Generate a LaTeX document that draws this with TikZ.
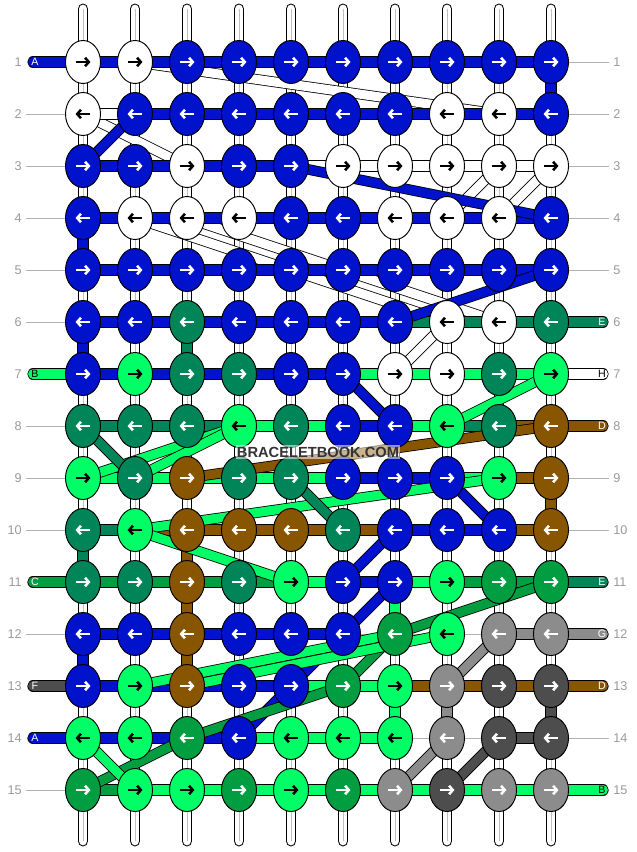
\documentclass[tikz,border=0pt]{standalone}
\usepackage{fontspec}
\setmainfont{Liberation Sans}
\usetikzlibrary{arrows.meta}
\usetikzlibrary{shapes.geometric}
\definecolor{cB}{RGB}{0,18,204}
\definecolor{cW}{RGB}{255,255,255}
\definecolor{cT}{RGB}{0,133,88}
\definecolor{cL}{RGB}{0,255,102}
\definecolor{cN}{RGB}{136,85,0}
\definecolor{cM}{RGB}{0,158,64}
\definecolor{cG}{RGB}{140,140,140}
\definecolor{cD}{RGB}{77,77,77}
\colorlet{aB}{white}
\colorlet{aW}{black}
\colorlet{aT}{white}
\colorlet{aL}{black}
\colorlet{aN}{white}
\colorlet{aM}{white}
\colorlet{aG}{white}
\colorlet{aD}{white}

\begin{document}
\begin{tikzpicture}[x=0.75pt, y=-0.75pt,
strand/.style={draw=black, line width=0.8pt, double=white, double distance=6.6pt, line cap=round},
midline/.style={draw=black!25, line width=0.6pt},
bar/.style={draw=black, line width=0.6pt, double=#1, double distance=7.3pt},
slant/.style={draw=black, line width=0.6pt, double=#1, double distance=6.8pt},
knot/.style={ellipse, draw, line width=0.7pt, fill=#1, minimum width=26.25pt, minimum height=32.25pt, inner sep=0pt},
arr/.style={draw=#1, line width=1.9pt, -{Straight Barb[length=2.8pt,width=6.4pt]}},
rowlbl/.style={text=black!40, font=\fontsize{9.5}{10}\selectfont, inner sep=0pt},
rowline/.style={draw=black!30, line width=0.6pt},
tablbl/.style={text=#1, font=\fontsize{8}{9}\selectfont, inner sep=0pt}]

\useasboundingbox (0,0) rectangle (636,852);

% knot positions
\foreach \r in {1,...,15}{
  \foreach \c in {1,...,10}{
    \coordinate (p\r-\c) at ({83+(\c-1)*52},{62+(\r-1)*52});
  }
}

% threads hanging top to bottom
\foreach \c in {1,...,10}{
  \coordinate (top\c) at ({83+(\c-1)*52},9);
  \coordinate (bot\c) at ({83+(\c-1)*52},841);
  \draw[strand] (top\c) -- (bot\c);
  \draw[midline] (top\c) -- (bot\c);
}

% white threads crossing
\foreach \a/\b in {1-2/2-9, 2-1/3-3, 3-10/4-9, 3-9/4-8, 4-2/6-8, 4-3/6-9, 6-8/7-7}
  \draw[slant=white] (p\a) -- (p\b);

% row labels
\foreach \r in {1,...,15}{
  \node[rowlbl, anchor=east] (ll\r) at (22,{62+(\r-1)*52}) {\r};
  \node[rowlbl, anchor=west] (rl\r) at (613,{62+(\r-1)*52}) {\r};
  \coordinate (lb\r) at (26,{62+(\r-1)*52});
  \coordinate (rb\r) at (609,{62+(\r-1)*52});
}
\foreach \r in {2,3,4,5,6,8,9,10,12,15}
  \draw[rowline] (lb\r) -- (p\r-1);
\foreach \r in {1,2,3,4,5,9,10,14}
  \draw[rowline] (p\r-10) -- (rb\r);

% loose ends, left and right
\foreach \r/\k/\t in {1/B/A, 7/L/B, 11/M/C, 13/D/F, 14/B/A}{
  \coordinate (lt\r) at (33,{62+(\r-1)*52});
  \draw[bar=c\k, line cap=round] (lt\r) -- (p\r-1);
  \node[tablbl=a\k] (ltx\r) at (35,{62+(\r-1)*52}) {\t};
}
\foreach \r/\k/\t in {6/T/E, 7/W/H, 8/N/D, 11/T/E, 12/G/G, 13/N/D, 15/L/B}{
  \coordinate (rt\r) at (603,{62+(\r-1)*52});
  \draw[bar=c\k, line cap=round] (p\r-10) -- (rt\r);
  \node[tablbl=a\k] (rtx\r) at (602,{62+(\r-1)*52}) {\t};
}

% straight down
\foreach \r/\c/\k in {1/10/B, 4/1/B, 6/1/B, 6/3/T, 9/10/N, 10/1/T, 10/3/N, 11/3/N,
  12/3/N, 12/1/B, 11/7/L, 13/8/G, 13/10/D, 13/7/L}{
  \pgfmathtruncatemacro\n{\r+1}
  \draw[bar=c\k] (p\r-\c) -- (p\n-\c);
}

% along the rows
\foreach \r/\segs in {1/{B,B,B,B,B,B,B,B,B}, 2/{W,B,B,B,B,B,B,B,B}, 3/{B,B,B,B,W,W,W,W,W},
  4/{B,B,B,B,B,B,B,B,B}, 5/{B,B,B,B,B,B,B,B,B}, 6/{B,B,B,B,B,B,T,T,T},
  7/{B,B,B,B,B,L,L,L,L}, 8/{T,T,T,L,L,B,L,T,N}, 9/{L,L,L,L,L,B,B,L,N},
  10/{T,N,N,N,N,N,B,B,N}, 11/{M,M,M,M,L,B,L,M,M}, 12/{B,B,B,B,B,X,X,X,G},
  13/{B,B,B,B,L,L,N,N,N}, 14/{B,B,B,L,L,L,X,X,D}, 15/{M,L,L,L,L,L,L,L,L}}{
  \foreach \s [count=\c] in \segs {
    \pgfmathtruncatemacro\d{\c+1}
    \if\s X
      \draw[rowline] (p\r-\c) -- (p\r-\d);
    \else
      \draw[bar=c\s] (p\r-\c) -- (p\r-\d);
    \fi
  }
}

% threads running across
\foreach \a/\b/\k in {2-2/3-1/B, 3-5/4-10/B, 5-10/6-7/B, 7-6/8-7/B, 9-8/10-9/B,
  10-7/11-6/B, 11-7/12-6/B, 12-6/13-5/B, 13-5/14-4/B,
  8-4/9-1/L, 8-4/9-2/L, 8-1/9-2/T, 9-3/8-10/N, 10-2/9-9/L, 10-2/11-5/L,
  9-5/10-6/T, 7-10/8-8/L, 11-10/12-7/M, 12-7/13-6/M, 13-6/14-3/M, 14-3/15-1/M,
  13-2/12-7/L, 13-3/12-8/L, 14-1/15-2/L, 12-9/13-8/G, 14-8/15-7/G, 14-9/15-8/D}
  \draw[slant=c\k] (p\a) -- (p\b);

% knots
\foreach \r/\ks in {1/{W,W,B,B,B,B,B,B,B,B}, 2/{W,B,B,B,B,B,B,W,W,B},
  3/{B,B,W,B,B,W,W,W,W,W}, 4/{B,W,W,W,B,B,W,W,W,B}, 5/{B,B,B,B,B,B,B,B,B,B},
  6/{B,B,T,B,B,B,B,W,W,T}, 7/{B,L,T,T,B,B,W,W,T,L}, 8/{T,T,T,L,T,B,B,L,T,N},
  9/{L,T,N,T,T,B,B,B,L,N}, 10/{T,L,N,N,N,T,B,B,B,N}, 11/{T,T,N,T,L,B,B,L,M,M},
  12/{B,B,N,B,B,B,M,L,G,G}, 13/{B,L,N,B,B,M,L,G,D,D}, 14/{L,L,M,B,L,L,L,G,D,D},
  15/{M,L,L,M,L,M,G,D,G,G}}{
  \foreach \k [count=\c] in \ks {
    \node[knot=c\k] (k\r-\c) at (p\r-\c) {};
    \ifodd\r
      \draw[arr=a\k] ([xshift=-5.6pt]k\r-\c.center) -- ([xshift=5.6pt]k\r-\c.center);
    \else
      \draw[arr=a\k] ([xshift=5.6pt]k\r-\c.center) -- ([xshift=-5.6pt]k\r-\c.center);
    \fi
  }
}

\node[fill=white, fill opacity=0.55, text opacity=1, text=black!80,
  font=\bfseries\fontsize{11}{12}\selectfont, inner sep=1pt] (mark) at (318,452) {BRACELETBOOK.COM};

\end{tikzpicture}
\end{document}
